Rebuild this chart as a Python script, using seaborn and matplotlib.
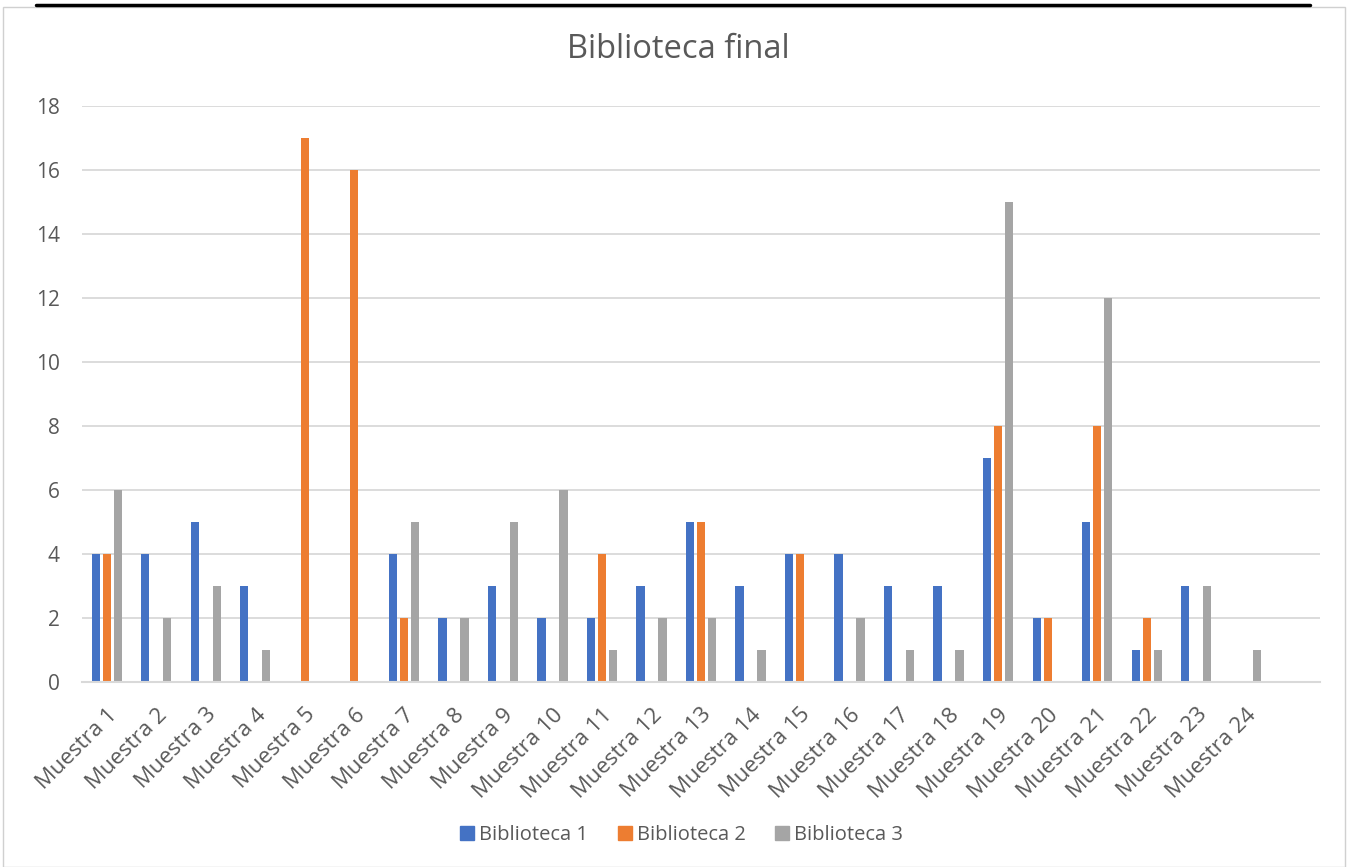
import numpy as np
import pandas as pd
import matplotlib
matplotlib.use("Agg")
import matplotlib.pyplot as plt
import seaborn as sns
from matplotlib.patches import Rectangle
from matplotlib.lines import Line2D

muestras = [f"Muestra {i}" for i in range(1, 25)]
biblioteca_1 = [4, 4, 5, 3, 0, 0, 4, 2, 3, 2, 2, 3, 5, 3, 4, 4, 3, 3, 7, 2, 5, 1, 3, 0]
biblioteca_2 = [4, 0, 0, 0, 17, 16, 2, 0, 0, 0, 4, 0, 5, 0, 4, 0, 0, 0, 8, 2, 8, 2, 0, 0]
biblioteca_3 = [6, 2, 3, 1, 0, 0, 5, 2, 5, 6, 1, 2, 2, 1, 0, 2, 1, 1, 15, 0, 12, 1, 3, 1]
series_names = ["Biblioteca 1", "Biblioteca 2", "Biblioteca 3"]
colors = ["#4472C4", "#ED7D31", "#A5A5A5"]
yticks = [0, 2, 4, 6, 8, 10, 12, 14, 16, 18]

df = pd.DataFrame({
    "Muestra": muestras * 3,
    "Serie": sum([[s] * len(muestras) for s in series_names], []),
    "Valor": biblioteca_1 + biblioteca_2 + biblioteca_3,
})

sns.set_theme(style="white")
plt.rcParams["font.family"] = ["Open Sans", "DejaVu Sans"]
txt = "#595959"

W, H = 1349, 867
fig = plt.figure(figsize=(W / 100, H / 100), dpi=100)
ax = fig.add_axes([82 / W, 1 - 682 / H, (1320 - 82) / W, (682 - 106) / H])

sns.barplot(data=df, x="Muestra", y="Valor", hue="Serie", palette=colors,
            order=muestras, hue_order=series_names, width=0.667, gap=0.25,
            ax=ax, legend=False, saturation=1, edgecolor="none")

ax.set_xlim(-0.5, len(muestras) + 0.5)
ax.set_ylim(0, 18)
ax.set_yticks(yticks)
ax.set_yticklabels([str(v) for v in yticks], fontsize=15, color=txt)
ax.set_xticks(range(len(muestras)))
ax.set_xticklabels(muestras, rotation=45, ha="right", rotation_mode="anchor",
                   fontsize=16, color=txt)
ax.tick_params(axis="x", length=0, pad=16)
ax.tick_params(axis="y", length=0, pad=16)
ax.set_xlabel("")
ax.set_ylabel("")
ax.grid(axis="y", color="#D9D9D9", linewidth=1.3)
ax.set_axisbelow(True)
for s in ["top", "right", "left"]:
    ax.spines[s].set_visible(False)
ax.spines["bottom"].set_color("#D9D9D9")
ax.spines["bottom"].set_linewidth(1.5)

fig.text(678 / W, 1 - 50 / H, "Biblioteca final", ha="center", va="center",
         fontsize=23.5, color=txt)

handles = [Line2D([0], [0], marker="s", linestyle="none", markersize=10,
                  markerfacecolor=c, markeredgecolor=c) for c in colors]
fig.legend(handles, series_names, loc="center", bbox_to_anchor=(680 / W, 1 - 835 / H),
           ncol=3, frameon=False, fontsize=14.5, labelcolor=txt, handletextpad=0.1,
           columnspacing=1.3, handlelength=1.0)

# chart frame and top black rule
fig.patches.append(Rectangle((3 / W, 0), (1345 - 3) / W, 1 - 7 / H,
                             transform=fig.transFigure, fill=False,
                             edgecolor="#D0D0D0", linewidth=1.0))
fig.lines.append(Line2D([36 / W, 1310 / W], [1 - 4.5 / H, 1 - 4.5 / H],
                        transform=fig.transFigure, color="black", linewidth=2.5))

fig.savefig("out.png", dpi=100)
